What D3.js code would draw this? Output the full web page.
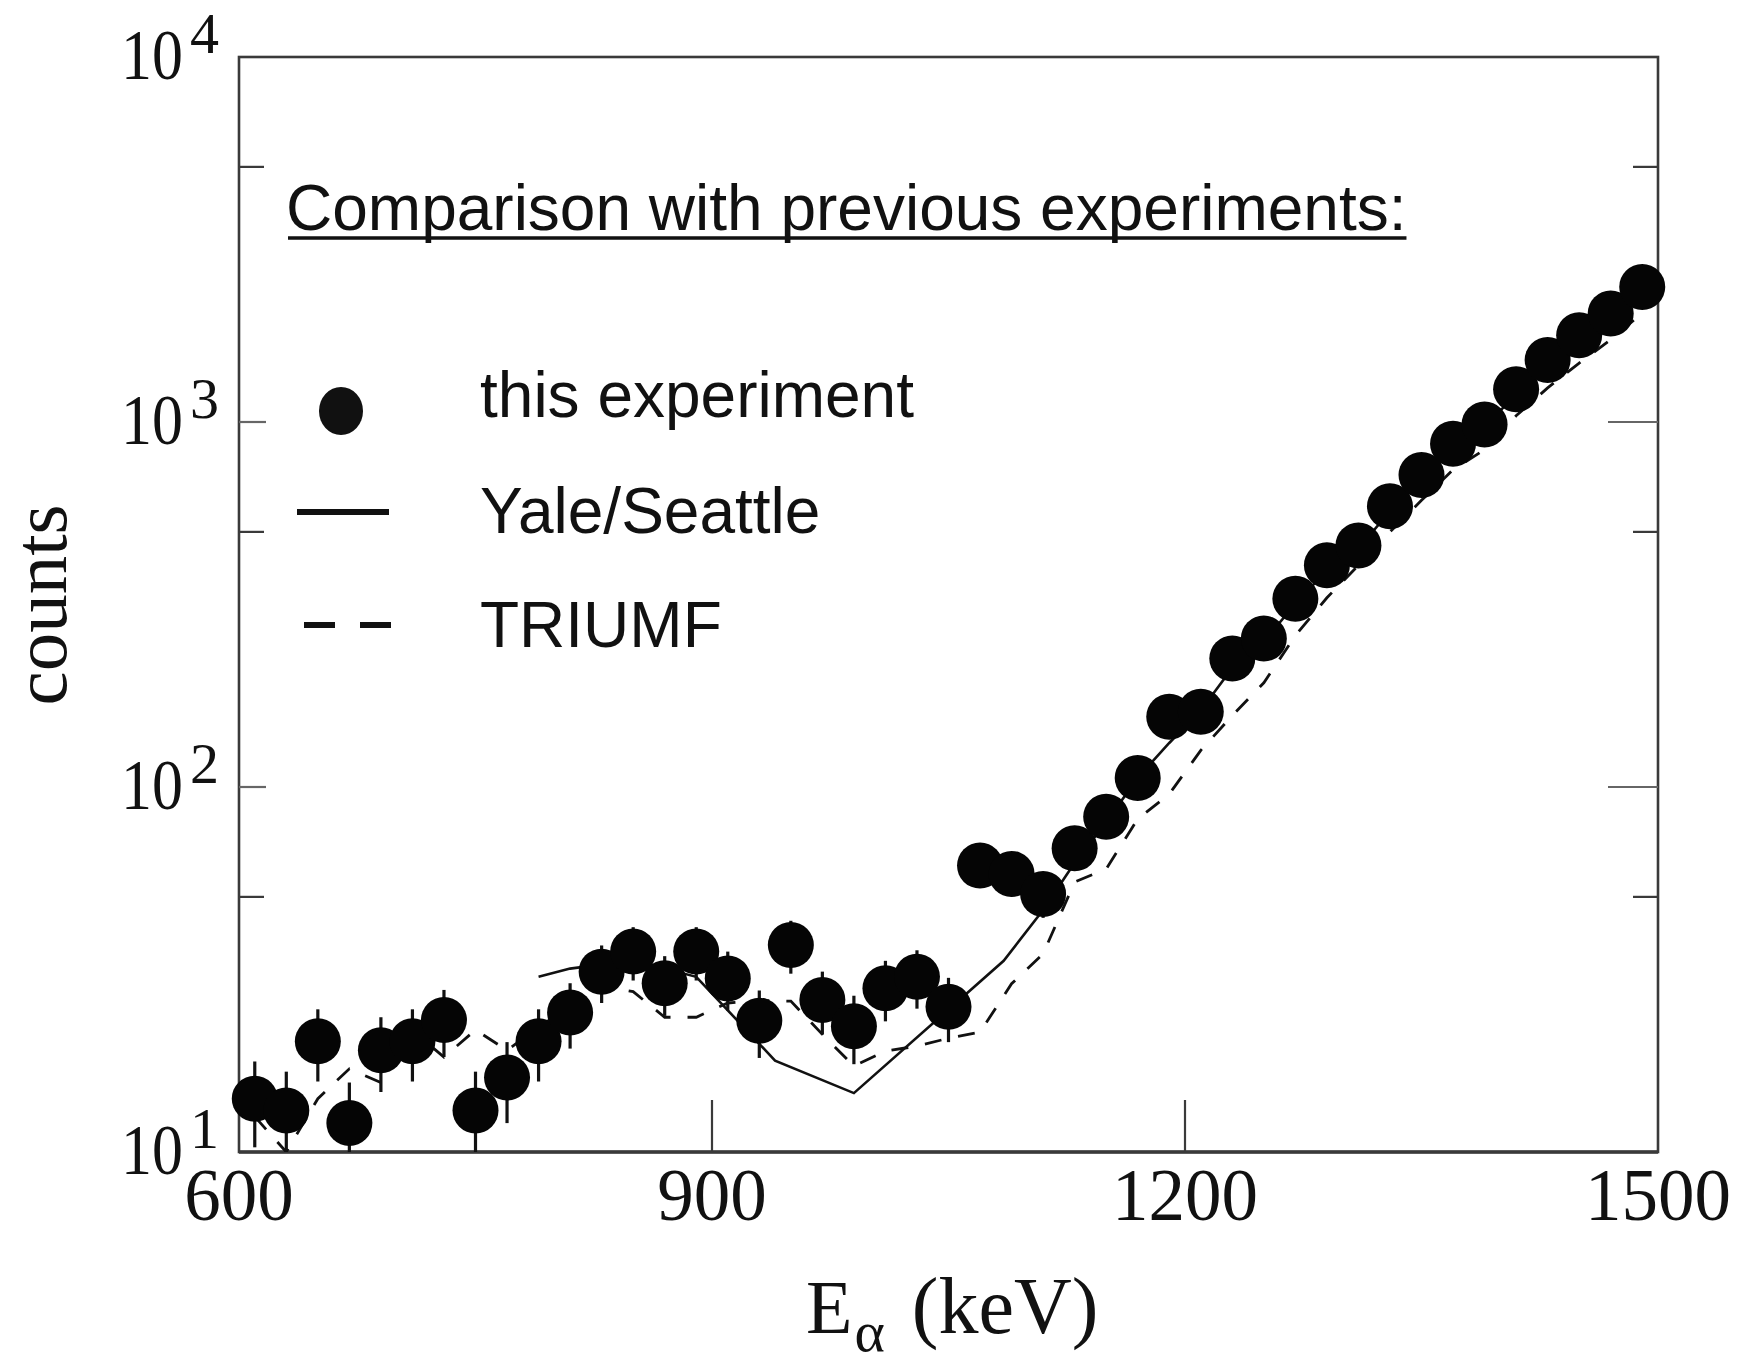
<!DOCTYPE html>
<html>
<head>
<meta charset="utf-8">
<script src="https://cdn.jsdelivr.net/npm/d3@7"></script>
<style>
  html, body { margin: 0; padding: 0; background: #fff; }
  svg { display: block; }
</style>
</head>
<body>
<svg id="chart" width="1740" height="1359"></svg>
<script>
// Alpha-particle spectrum: energies in keV, counts per bin
const energies = [610, 630, 650, 670, 690, 710, 730, 750, 770, 790,
                  810, 830, 850, 870, 890, 910, 930, 950, 970, 990,
                  1010, 1030, 1050, 1070, 1090, 1110, 1130, 1150, 1170, 1190,
                  1210, 1230, 1250, 1270, 1290, 1310, 1330, 1350, 1370, 1390,
                  1410, 1430, 1450, 1470, 1490];
const counts = [14.0, 13.0, 20.1, 12.0, 19.0, 20.1, 23.0, 13.0, 16.0, 20.1,
                24.1, 31.2, 35.4, 29.0, 35.4, 29.9, 22.9, 36.9, 26.1, 22.1,
                28.1, 30.2, 25.0, 60.9, 57.8, 50.9, 67.9, 82.9, 105.9, 155.8,
                160.8, 225, 255, 328, 405, 459, 588, 716, 872, 985,
                1230, 1478, 1728, 1982, 2345];
const countErrors = [3.7, 3.6, 4.5, 3.5, 4.4, 4.5, 4.8, 3.6, 4.0, 4.5,
                     4.9, 5.6, 5.9, 5.4, 5.9, 5.5, 4.8, 6.1, 5.1, 4.7,
                     5.3, 5.5, 5.0, 7.8, 7.6, 7.1, 8.2, 9.1, 10.3, 12.5,
                     12.7, 15, 16, 18, 20, 21, 24, 27, 30, 31,
                     35, 38, 42, 45, 48];

// Yale/Seattle spectrum (solid line)
const yaleEnergies = [790, 810, 850, 890, 940, 990, 1085, 1110, 1130, 1150,
                      1170, 1190, 1210, 1230, 1250, 1270, 1290, 1310, 1330, 1350,
                      1370, 1390, 1410, 1430, 1450, 1470, 1490];
const yaleCounts = [30.2, 31.8, 33.5, 30.2, 17.8, 14.5, 33.4, 46, 62, 80,
                    106, 132, 162, 212, 250, 318, 392, 450, 570, 690,
                    850, 960, 1200, 1430, 1690, 1940, 2280];

// TRIUMF spectrum (dashed line), same binning as the data points
const triumfCounts = [12.5, 10.0, 14.0, 16.9, 15.5, 21.5, 18.2, 21.6, 19.0, 22.0,
                      25.0, 28.5, 27.5, 23.4, 23.4, 25.6, 26.0, 25.9, 21.0, 17.2,
                      18.9, 19.5, 20.5, 21.3, 28.9, 34.9, 54.9, 59.6, 81.7, 95.6,
                      126, 157, 193, 260, 330, 405, 500, 610, 740, 840,
                      1040, 1240, 1450, 1680, 1990];

const xTicks = [600, 900, 1200, 1500];
const yMajorTicks = [10, 100, 1000, 10000];
const yMinorTicks = [50, 500, 5000];

const legendLabels = ["this experiment", "Yale/Seattle", "TRIUMF"];
const titleText = "Comparison with previous experiments:";

const svg = d3.select("#chart");
const W = 1740, H = 1359;
const plotL = 239, plotR = 1658, plotT = 57, plotB = 1152;

const x = d3.scaleLinear().domain([600, 1500]).range([plotL, plotR]);
const y = d3.scaleLog().domain([10, 10000]).range([plotB, plotT]);

svg.append("rect").attr("width", W).attr("height", H).attr("fill", "#fff");

svg.append("defs").append("clipPath").attr("id", "plot-clip")
  .append("rect").attr("x", plotL).attr("y", plotT)
  .attr("width", plotR - plotL).attr("height", plotB - plotT);

const serif = "'Liberation Serif', 'Times New Roman', serif";
const sans = "'Liberation Sans', Arial, sans-serif";
const ink = "#111";
const axisInk = "#3a3a3a";

// frame
svg.append("rect")
  .attr("x", plotL).attr("y", plotT)
  .attr("width", plotR - plotL).attr("height", plotB - plotT)
  .attr("fill", "none").attr("stroke", axisInk).attr("stroke-width", 2.6);
svg.append("line")
  .attr("x1", plotL).attr("x2", plotR).attr("y1", plotB).attr("y2", plotB)
  .attr("stroke", axisInk).attr("stroke-width", 3.4);

// x ticks (inward from bottom axis)
const tickG = svg.append("g").attr("stroke", axisInk).attr("stroke-width", 2.2);
tickG.selectAll("line.xt").data(xTicks.slice(1, -1)).join("line")
  .attr("x1", d => x(d)).attr("x2", d => x(d))
  .attr("y1", plotB).attr("y2", plotB - 52);

// y ticks on both sides
const yTickG = svg.append("g").attr("stroke-width", 2.2);
yTickG.selectAll("line.ylmaj").data(yMajorTicks.slice(1, -1)).join("line")
  .attr("x1", plotL).attr("x2", plotL + 27)
  .attr("y1", d => y(d)).attr("y2", d => y(d))
  .attr("stroke", "#666");
yTickG.selectAll("line.yrmaj").data(yMajorTicks.slice(1, -1)).join("line")
  .attr("x1", plotR).attr("x2", plotR - 50)
  .attr("y1", d => y(d)).attr("y2", d => y(d))
  .attr("stroke", "#666");
yTickG.selectAll("line.ylmin").data(yMinorTicks).join("line")
  .attr("x1", plotL).attr("x2", plotL + 25)
  .attr("y1", d => y(d)).attr("y2", d => y(d))
  .attr("stroke", axisInk);
yTickG.selectAll("line.yrmin").data(yMinorTicks).join("line")
  .attr("x1", plotR).attr("x2", plotR - 25)
  .attr("y1", d => y(d)).attr("y2", d => y(d))
  .attr("stroke", axisInk);

// x tick labels
svg.append("g").selectAll("text").data(xTicks).join("text")
  .attr("x", d => x(d)).attr("y", plotB + 68)
  .attr("text-anchor", "middle")
  .attr("font-family", serif).attr("font-size", 73).attr("fill", ink)
  .text(d => d);

// y tick labels as 10^n
const yLab = svg.append("g").selectAll("g").data(yMajorTicks).join("g")
  .attr("transform", d => `translate(121, ${y(d) + 22})`);
yLab.append("text")
  .attr("transform", "scale(0.86, 1)")
  .attr("font-family", serif).attr("font-size", 72).attr("fill", ink)
  .text("10");
yLab.append("text")
  .attr("x", 69).attr("y", -26)
  .attr("font-family", serif).attr("font-size", 58).attr("fill", ink)
  .text(d => Math.round(Math.log10(d)));

// axis titles
svg.append("text")
  .attr("transform", `translate(66, 605) rotate(-90)`)
  .attr("text-anchor", "middle")
  .attr("font-family", serif).attr("font-size", 77).attr("fill", ink)
  .text("counts");

const xt = svg.append("text")
  .attr("x", 806).attr("y", 1333)
  .attr("font-family", serif).attr("font-size", 76).attr("fill", ink);
xt.append("tspan").text("E");
xt.append("tspan").attr("font-size", 58).attr("dy", 18).attr("dx", 2).text("α");
xt.append("tspan").attr("dy", -18).attr("dx", 27).attr("font-size", 80).text("(keV)");

// comparison lines, clipped to the plot area
const lineGen = d3.line().x(d => x(d[0])).y(d => y(d[1]));
const plotG = svg.append("g").attr("clip-path", "url(#plot-clip)");

plotG.append("path")
  .datum(energies.map((e, i) => [e, triumfCounts[i]]))
  .attr("d", lineGen)
  .attr("fill", "none").attr("stroke", ink).attr("stroke-width", 2.8)
  .attr("stroke-dasharray", "17,17");

plotG.append("path")
  .datum(yaleEnergies.map((e, i) => [e, yaleCounts[i]]))
  .attr("d", lineGen)
  .attr("fill", "none").attr("stroke", ink).attr("stroke-width", 2.6);

// error bars
svg.append("g").selectAll("line").data(energies).join("line")
  .attr("x1", d => x(d)).attr("x2", d => x(d))
  .attr("y1", (d, i) => y(counts[i] + countErrors[i]))
  .attr("y2", (d, i) => Math.min(plotB, y(counts[i] - countErrors[i])))
  .attr("stroke", ink).attr("stroke-width", 3.2);

// data points
svg.append("g").selectAll("circle").data(energies).join("circle")
  .attr("cx", d => x(d))
  .attr("cy", (d, i) => y(counts[i]))
  .attr("r", 23)
  .attr("fill", "#050505");

// title
const title = svg.append("text")
  .attr("x", 286).attr("y", 230)
  .attr("font-family", sans).attr("font-size", 64).attr("fill", ink)
  .text(titleText);
const tb = title.node().getBBox();
svg.append("line")
  .attr("x1", tb.x + 2).attr("x2", tb.x + tb.width)
  .attr("y1", 238).attr("y2", 238)
  .attr("stroke", ink).attr("stroke-width", 3.6);

// legend
const legendY = [417, 533, 647];
const lg = svg.append("g");
lg.append("ellipse").attr("cx", 341).attr("cy", 411).attr("rx", 22).attr("ry", 24).attr("fill", ink);
lg.append("line").attr("x1", 297).attr("x2", 389).attr("y1", 512).attr("y2", 512)
  .attr("stroke", ink).attr("stroke-width", 6);
lg.append("line").attr("x1", 304).attr("x2", 391).attr("y1", 625).attr("y2", 625)
  .attr("stroke", ink).attr("stroke-width", 6).attr("stroke-dasharray", "31,25");
lg.selectAll("text").data(legendLabels).join("text")
  .attr("x", 480).attr("y", (d, i) => legendY[i])
  .attr("font-family", sans).attr("font-size", 64).attr("fill", ink)
  .text(d => d);
</script>
</body>
</html>
